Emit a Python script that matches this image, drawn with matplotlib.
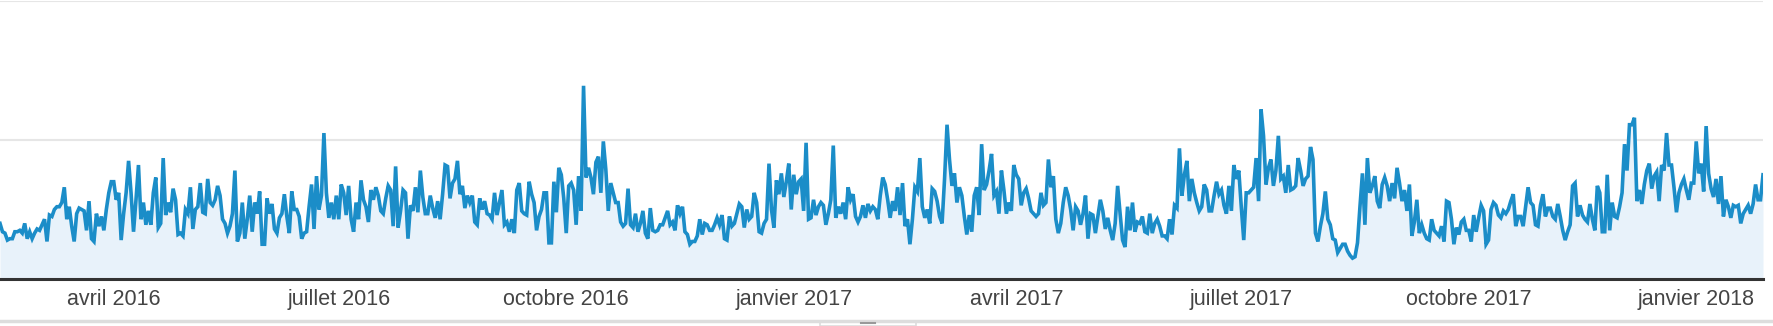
import pandas as pd
import matplotlib
matplotlib.use("Agg")
import matplotlib.pyplot as plt
from matplotlib.lines import Line2D
from matplotlib.patches import Rectangle

# Sessions par jour (echelle 0-200)
start_date = "2016-02-15"
feb_apr_2016 = [40, 34, 33, 28, 29, 29, 34, 34, 35, 33, 40, 29, 34, 29, 33, 36, 35, 39, 43, 27,
                46, 45, 50, 52, 52, 55, 66, 43, 52, 38, 27, 47, 51, 50, 49, 35, 56, 29, 27, 47,
                38, 45, 35, 50, 62, 70, 70, 57, 62, 28, 47, 62, 85, 62, 34, 57, 82, 43, 55, 39]
apr_jun_2016 = [49, 39, 62, 73, 37, 40, 87, 46, 55, 48, 65, 57, 32, 33, 31, 50, 47, 66, 36, 50,
                52, 69, 48, 47, 72, 55, 53, 57, 67, 60, 43, 40, 33, 38, 47, 78, 27, 33, 55, 29,
                43, 60, 34, 55, 47, 63, 25, 25, 58, 47, 54, 36, 33, 44, 47, 61, 45, 33, 63, 50]
jun_aug_2016 = [50, 45, 29, 33, 34, 52, 68, 36, 74, 50, 60, 105, 62, 44, 55, 43, 60, 43, 68, 62,
                46, 67, 43, 34, 55, 43, 71, 57, 52, 41, 64, 57, 66, 60, 49, 47, 58, 67, 64, 38,
                81, 37, 49, 64, 62, 29, 53, 49, 66, 48, 78, 59, 47, 47, 60, 51, 44, 56, 43, 61]
aug_oct_2016 = [82, 81, 58, 69, 72, 85, 61, 67, 51, 60, 55, 60, 41, 39, 58, 50, 56, 47, 46, 43,
                62, 46, 55, 64, 39, 41, 34, 43, 33, 64, 69, 49, 47, 46, 70, 61, 55, 35, 45, 50,
                62, 62, 26, 26, 70, 48, 80, 75, 58, 33, 67, 69, 64, 39, 74, 49, 139, 73, 80, 73]
oct_dec_2016 = [61, 84, 88, 62, 99, 79, 49, 69, 62, 55, 55, 41, 38, 40, 65, 39, 37, 47, 34, 40,
                49, 33, 29, 51, 35, 34, 35, 39, 39, 44, 49, 39, 41, 35, 53, 47, 52, 34, 32, 25,
                27, 27, 31, 43, 32, 40, 39, 35, 35, 39, 44, 39, 46, 29, 28, 45, 38, 40, 47, 54]
dec_feb_2017 = [52, 37, 50, 43, 45, 62, 55, 34, 33, 40, 43, 83, 50, 37, 71, 61, 76, 59, 70, 83,
                50, 75, 61, 70, 72, 49, 98, 43, 44, 57, 46, 52, 55, 53, 39, 47, 57, 96, 44, 52,
                47, 55, 43, 66, 57, 61, 45, 41, 45, 53, 44, 54, 49, 52, 50, 43, 60, 73, 68, 57]
feb_apr_2017 = [44, 56, 49, 66, 46, 69, 38, 43, 25, 43, 66, 63, 87, 52, 44, 50, 40, 65, 63, 56,
                45, 40, 72, 111, 86, 67, 76, 55, 66, 60, 45, 32, 46, 34, 60, 66, 46, 97, 64, 68,
                78, 90, 60, 63, 47, 78, 64, 47, 55, 49, 82, 75, 72, 53, 62, 65, 58, 49, 47, 45]
apr_jun_2017 = [47, 62, 53, 55, 86, 66, 74, 43, 33, 40, 55, 66, 60, 50, 35, 52, 49, 39, 47, 60,
                29, 47, 46, 33, 45, 57, 49, 36, 44, 35, 28, 40, 67, 47, 28, 23, 52, 35, 55, 34,
                41, 40, 45, 34, 33, 47, 33, 40, 43, 38, 31, 31, 29, 43, 32, 53, 51, 94, 60, 75]
jun_aug_2017 = [85, 56, 72, 62, 55, 49, 52, 68, 64, 49, 49, 60, 70, 61, 64, 53, 47, 67, 49, 82,
                72, 78, 52, 28, 62, 62, 64, 66, 87, 56, 122, 103, 68, 80, 86, 67, 78, 103, 72, 74,
                62, 82, 64, 65, 67, 87, 78, 67, 72, 74, 95, 86, 33, 27, 38, 47, 63, 43, 39, 29]
aug_oct_2017 = [28, 19, 22, 25, 25, 20, 17, 15, 16, 26, 52, 76, 39, 87, 62, 67, 74, 56, 51, 68,
                73, 67, 56, 69, 58, 80, 69, 56, 64, 49, 68, 31, 41, 57, 33, 39, 33, 29, 28, 43,
                35, 33, 31, 38, 27, 56, 55, 43, 25, 37, 32, 41, 43, 35, 35, 27, 46, 34, 44, 53]
oct_dec_2017 = [49, 25, 28, 50, 55, 53, 46, 44, 49, 47, 50, 56, 61, 38, 45, 45, 38, 52, 66, 55,
                53, 39, 38, 53, 61, 45, 51, 51, 45, 43, 54, 45, 35, 28, 34, 39, 67, 69, 45, 53,
                46, 43, 41, 54, 43, 35, 67, 62, 34, 34, 75, 35, 55, 45, 44, 52, 62, 97, 78, 111]
dec_jan_2018 = [111, 116, 56, 64, 54, 68, 78, 83, 65, 74, 77, 56, 82, 78, 105, 82, 82, 66, 48, 62,
                68, 72, 64, 57, 69, 69, 99, 76, 83, 63, 110, 76, 65, 59, 72, 54, 74, 45, 57, 52,
                44, 53, 52, 53, 40, 47, 50, 53, 47, 54, 68, 57, 57, 75]

tick_dates = ["2016-04-01", "2016-07-01", "2016-10-01", "2017-01-01",
              "2017-04-01", "2017-07-01", "2017-10-01", "2018-01-01"]
tick_labels = ["avril 2016", "juillet 2016", "octobre 2016", "janvier 2017",
               "avril 2017", "juillet 2017", "octobre 2017", "janvier 2018"]

values = (feb_apr_2016 + apr_jun_2016 + jun_aug_2016 + aug_oct_2016 + oct_dec_2016
          + dec_feb_2017 + feb_apr_2017 + apr_jun_2017 + jun_aug_2017 + aug_oct_2017
          + oct_dec_2017 + dec_jan_2018)
dates = pd.date_range(start_date, periods=len(values), freq="D")

W, H = 1774, 326
fig = plt.figure(figsize=(W / 100, H / 100), dpi=100)
ax = fig.add_axes([0, (H - 279) / H, 1763 / W, 278 / H])

ax.fill_between(dates, values, 0, color="#e8f2fa", lw=0)
ax.plot(dates, values, color="#1b8dc8", lw=2.6, solid_joinstyle="miter")

ax.set_xlim(dates[0], dates[-1])
ax.set_ylim(0, 200)
ax.set_yticks([100, 200])
ax.yaxis.grid(True, color="#e6e6e6", lw=1.5)
ax.set_axisbelow(True)
ax.tick_params(axis="y", left=False, labelleft=False)

ax.set_xticks(pd.to_datetime(tick_dates))
ax.set_xticklabels(tick_labels, fontsize=15.5, color="#444444",
                   family=["Liberation Sans", "DejaVu Sans"])
ax.tick_params(axis="x", length=0, pad=7)

for side in ["top", "left", "right"]:
    ax.spines[side].set_visible(False)
ax.spines["bottom"].set_color("#333333")
ax.spines["bottom"].set_linewidth(2.2)
ax.spines["bottom"].set_zorder(5)

# barre grise du bas avec la poignee
fig.add_artist(Line2D([0, 1], [1 - 321 / H, 1 - 321 / H], color="#dddddd", lw=2.5))
fig.add_artist(Rectangle((820 / W, 0), 96 / W, 5 / H, facecolor="white",
                         edgecolor="#dddddd", lw=1.2))
fig.add_artist(Line2D([861 / W, 875 / W], [3 / H, 3 / H], color="#999999", lw=1.5))

fig.savefig("out.png", dpi=100)
